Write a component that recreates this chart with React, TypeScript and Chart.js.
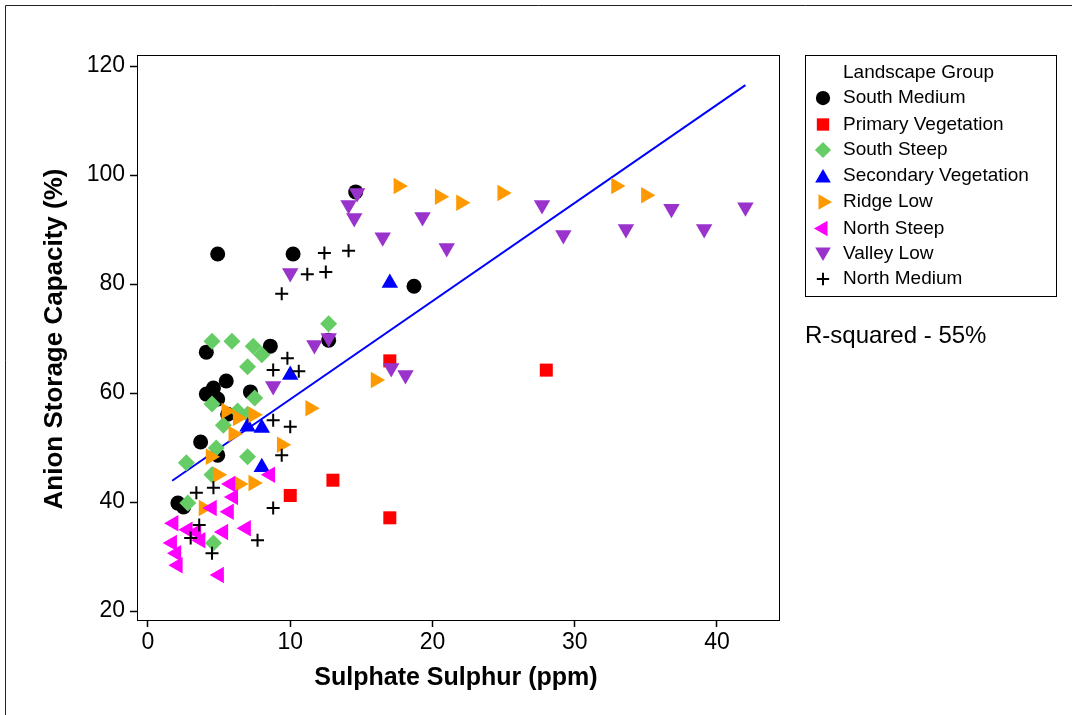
import React, { useEffect, useRef } from "react";
import { Chart, registerables } from "chart.js";

Chart.register(...registerables);

// ---------- data ----------
const legendTitle = "Landscape Group";
const seriesNames = [
  "South Medium",
  "Primary Vegetation",
  "South Steep",
  "Secondary Vegetation",
  "Ridge Low",
  "North Steep",
  "Valley Low",
  "North Medium",
];
const seriesColors = ["#000000", "#ff0000", "#66cc66", "#0000ff", "#ff9900", "#ff00ff", "#9933cc", "#000000"];
const seriesStyles = ["circle", "rect", "rectRot", "triangle", "triangle", "triangle", "triangle", "cross"];
const seriesRotations = [0, 0, 0, 0, 90, 270, 180, 0];
const seriesRadius = [7.5, 9.2, 8.5, 9.5, 9.5, 9.5, 9.5, 6.5];

const southMediumX = [14.6, 4.9, 10.2, 18.7, 8.6, 12.7, 4.1, 5.5, 4.6, 4.1, 4.9, 7.2, 3.7, 4.9, 5.6, 2.1, 2.5];
const southMediumY = [96.9, 85.5, 85.5, 79.6, 68.6, 69.7, 67.5, 62.2, 60.9, 59.8, 58.9, 60.2, 51.0, 48.6, 56.1, 39.8, 39.1];

const primaryVegX = [17.0, 28.0, 10.0, 13.0, 17.0];
const primaryVegY = [65.9, 64.2, 41.2, 44.0, 37.1];

const southSteepX = [12.7, 4.5, 5.9, 7.4, 8.0, 7.0, 7.5, 4.5, 6.3, 7.0, 5.3, 4.8, 2.7, 7.0, 4.5, 2.8, 4.6];
const southSteepY = [72.7, 69.5, 69.5, 68.6, 67.0, 64.8, 59.1, 58.0, 56.7, 56.1, 54.1, 49.9, 47.2, 48.3, 45.0, 39.8, 32.5];

const secondaryVegX = [17.0, 10.0, 7.0, 8.0, 8.0];
const secondaryVegY = [80.2, 63.3, 53.8, 53.6, 46.4];

const ridgeLowX = [17.6, 20.5, 22.0, 24.9, 32.9, 35.0, 16.0, 11.4, 5.5, 6.3, 7.4, 6.0, 9.4, 4.4, 4.9, 6.4, 7.4, 3.9];
const ridgeLowY = [98.0, 96.0, 94.9, 96.7, 98.0, 96.3, 62.4, 57.2, 56.7, 55.4, 56.0, 52.5, 50.5, 48.3, 45.0, 43.3, 43.5, 38.9];

const northSteepX = [8.6, 5.8, 6.0, 4.5, 5.7, 1.8, 2.8, 3.4, 5.3, 6.9, 3.7, 1.7, 2.0, 2.1, 5.0];
const northSteepY = [45.0, 43.3, 40.9, 38.9, 38.2, 36.1, 34.9, 34.5, 34.5, 35.2, 33.0, 32.5, 30.6, 28.4, 26.6];

const valleyLowX = [14.7, 14.1, 14.5, 10.0, 16.5, 19.3, 21.0, 27.7, 12.7, 11.7, 17.1, 18.1, 29.2, 33.6, 36.8, 39.1, 42.0, 8.8];
const valleyLowY = [96.7, 94.5, 92.1, 82.0, 88.6, 92.3, 86.6, 94.5, 70.1, 68.8, 64.6, 63.3, 89.0, 90.1, 93.8, 90.1, 94.1, 61.3];

const northMediumX = [12.4, 14.1, 11.2, 12.5, 9.4, 9.8, 8.8, 10.6, 8.8, 10.0, 9.4, 4.6, 3.4, 8.8, 3.6, 3.0, 4.5, 7.7];
const northMediumY = [85.7, 86.1, 81.8, 82.2, 78.2, 66.4, 64.2, 64.0, 55.0, 53.8, 48.6, 42.6, 41.7, 38.9, 35.8, 33.4, 30.6, 33.0];

const fitLineX = [1.7, 42.0];
const fitLineY = [43.9, 116.5];

const xTickValues = [0, 10, 20, 30, 40];
const yTickValues = [20, 40, 60, 80, 100, 120];

const xAxisTitle = "Sulphate Sulphur (ppm)";
const yAxisTitle = "Anion Storage Capacity (%)";
const rSquaredText = "R-squared - 55%";

const seriesX = [southMediumX, primaryVegX, southSteepX, secondaryVegX, ridgeLowX, northSteepX, valleyLowX, northMediumX];
const seriesY = [southMediumY, primaryVegY, southSteepY, secondaryVegY, ridgeLowY, northSteepY, valleyLowY, northMediumY];

const FONT = "'Liberation Sans', Arial, sans-serif";

function zip(xs: number[], ys: number[]) {
  return xs.map((x, i) => ({ x, y: ys[i] }));
}

function drawMarker(
  ctx: CanvasRenderingContext2D,
  style: string,
  rotDeg: number,
  x: number,
  y: number,
  r: number,
  color: string
) {
  ctx.save();
  ctx.fillStyle = color;
  ctx.strokeStyle = color;
  ctx.beginPath();
  if (style === "circle") {
    ctx.arc(x, y, r, 0, Math.PI * 2);
    ctx.fill();
  } else if (style === "rect") {
    const s = r * Math.SQRT1_2;
    ctx.rect(x - s, y - s, 2 * s, 2 * s);
    ctx.fill();
  } else if (style === "rectRot") {
    ctx.moveTo(x, y - r);
    ctx.lineTo(x + r, y);
    ctx.lineTo(x, y + r);
    ctx.lineTo(x - r, y);
    ctx.closePath();
    ctx.fill();
  } else if (style === "triangle") {
    let rad = (rotDeg * Math.PI) / 180;
    for (let k = 0; k < 3; k++) {
      const px = x + Math.sin(rad) * r;
      const py = y - Math.cos(rad) * r;
      if (k === 0) ctx.moveTo(px, py);
      else ctx.lineTo(px, py);
      rad += (2 * Math.PI) / 3;
    }
    ctx.closePath();
    ctx.fill();
  } else if (style === "cross") {
    ctx.lineWidth = 2;
    ctx.moveTo(x - r, y);
    ctx.lineTo(x + r, y);
    ctx.moveTo(x, y - r);
    ctx.lineTo(x, y + r);
    ctx.stroke();
  }
  ctx.restore();
}

const decorPlugin = {
  id: "decor",
  beforeDraw(chart: any) {
    const ctx: CanvasRenderingContext2D = chart.ctx;
    ctx.save();
    ctx.fillStyle = "#ffffff";
    ctx.fillRect(0, 0, chart.width, chart.height);
    // outer frame (top & left visible)
    ctx.strokeStyle = "#222222";
    ctx.lineWidth = 1;
    ctx.beginPath();
    ctx.moveTo(5.5, chart.height);
    ctx.lineTo(5.5, 5.5);
    ctx.lineTo(chart.width, 5.5);
    ctx.stroke();
    ctx.restore();
  },
  afterDraw(chart: any) {
    const ctx: CanvasRenderingContext2D = chart.ctx;
    const a = chart.chartArea;
    ctx.save();
    // plot box
    ctx.strokeStyle = "#000000";
    ctx.lineWidth = 1;
    ctx.strokeRect(Math.round(a.left) + 0.5, Math.round(a.top) + 0.5, Math.round(a.right - a.left), Math.round(a.bottom - a.top));

    // axis titles
    ctx.fillStyle = "#000000";
    ctx.font = `bold 25px ${FONT}`;
    ctx.textAlign = "center";
    ctx.textBaseline = "middle";
    ctx.fillText(xAxisTitle, 456, 678);
    ctx.save();
    ctx.translate(55, 339);
    ctx.rotate(-Math.PI / 2);
    ctx.font = `bold 26px ${FONT}`;
    ctx.fillText(yAxisTitle, 0, 0);
    ctx.restore();

    // legend box
    const lx = 805, ly = 55, lw = 251, lh = 241;
    ctx.strokeStyle = "#000000";
    ctx.lineWidth = 1;
    ctx.strokeRect(lx + 0.5, ly + 0.5, lw, lh);
    ctx.font = `19px ${FONT}`;
    ctx.textAlign = "left";
    ctx.textBaseline = "middle";
    ctx.fillText(legendTitle, 843, 73);
    const rowYs = [98, 124.5, 150, 176, 202, 228.5, 254, 279];
    seriesNames.forEach((name, i) => {
      const yy = rowYs[i];
      let my = yy;
      if (seriesStyles[i] === "triangle" && seriesRotations[i] === 0) my = yy + 2;
      if (seriesStyles[i] === "triangle" && seriesRotations[i] === 180) my = yy - 2;
      drawMarker(ctx, seriesStyles[i], seriesRotations[i], 823, my, seriesRadius[i] * 0.95, seriesColors[i]);
      ctx.fillStyle = "#000000";
      ctx.fillText(name, 843, yy);
    });

    // R-squared
    ctx.font = `24px ${FONT}`;
    ctx.fillText(rSquaredText, 805, 336);
    ctx.restore();
  },
};

export default function App() {
  const canvasRef = useRef<HTMLCanvasElement | null>(null);

  useEffect(() => {
    if (!canvasRef.current) return;
    const scatterSets = seriesNames.map((name, i) => ({
      type: "scatter" as const,
      label: name,
      data: zip(seriesX[i], seriesY[i]),
      pointStyle: seriesStyles[i] as any,
      rotation: seriesRotations[i],
      pointRadius: seriesRadius[i],
      pointHoverRadius: seriesRadius[i],
      backgroundColor: seriesColors[i],
      borderColor: seriesColors[i],
      borderWidth: seriesStyles[i] === "cross" ? 2 : 0,
      order: 10 - i,
    }));
    const fitSet = {
      type: "line" as const,
      label: "fit",
      data: zip(fitLineX, fitLineY),
      borderColor: "#0000ff",
      borderWidth: 2,
      pointRadius: 0,
      fill: false,
      tension: 0,
      order: 20,
    };

    const chart = new Chart(canvasRef.current, {
      type: "scatter",
      data: { datasets: [...scatterSets, fitSet] as any },
      options: {
        responsive: false,
        animation: false,
        devicePixelRatio: 1,
        layout: { padding: { top: 55, right: 293, left: 0, bottom: 0 } },
        plugins: {
          legend: { display: false },
          tooltip: { enabled: false },
          title: { display: false },
        },
        scales: {
          x: {
            type: "linear",
            min: -0.773,
            max: 44.36,
            border: { display: false },
            grid: {
              display: true,
              drawOnChartArea: false,
              drawTicks: true,
              tickLength: 7,
              tickWidth: 1.5,
              tickColor: "#000000",
            },
            ticks: {
              includeBounds: false,
              color: "#000000",
              font: { family: FONT, size: 23 },
              padding: 2,
              maxRotation: 0,
              autoSkip: false,
            },
            afterBuildTicks(scale: any) {
              scale.ticks = xTickValues.map((v) => ({ value: v }));
            },
            afterFit(scale: any) {
              scale.height = 95;
            },
          },
          y: {
            type: "linear",
            min: 18.35,
            max: 122.02,
            border: { display: false },
            grid: {
              display: true,
              drawOnChartArea: false,
              drawTicks: true,
              tickLength: 7,
              tickWidth: 1.5,
              tickColor: "#000000",
            },
            ticks: {
              includeBounds: false,
              color: "#000000",
              font: { family: FONT, size: 23 },
              padding: 5,
              autoSkip: false,
            },
            afterBuildTicks(scale: any) {
              scale.ticks = yTickValues.map((v) => ({ value: v }));
            },
            afterFit(scale: any) {
              scale.width = 137;
            },
          },
        },
      },
      plugins: [decorPlugin],
    });
    return () => chart.destroy();
  }, []);

  return (
    <div style={{ position: "absolute", left: 0, top: 0, width: 1072, height: 715, overflow: "hidden", background: "#fff" }}>
      <canvas ref={canvasRef} width={1072} height={715} style={{ display: "block", width: 1072, height: 715 }} />
    </div>
  );
}
